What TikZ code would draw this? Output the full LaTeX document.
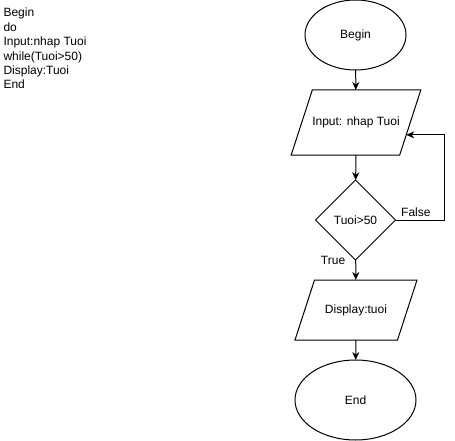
\documentclass[tikz,border=0pt]{standalone}
\usepackage{fontspec}
\setmainfont{Liberation Sans}
\usetikzlibrary{calc}
\usetikzlibrary{shapes.geometric}
\usetikzlibrary{arrows.meta}
\tikzset{
  every node/.style={font=\fontsize{12}{14.4}\selectfont},
  startstop/.style={ellipse,draw,fill=white,inner sep=0pt,outer sep=0pt},
  io/.style={trapezium,trapezium left angle=72,trapezium right angle=108,
    trapezium stretches body,draw,fill=white,inner xsep=0pt,outer sep=0pt,
    text height=9pt,text depth=3pt,minimum width=122pt},
  test/.style={diamond,draw,fill=white,inner sep=0pt,outer sep=0pt,
    aspect=1,minimum size=80pt},
  flow/.style={-{Stealth[length=8pt,width=7pt,inset=2.5pt]}},
}

\begin{document}
\begin{tikzpicture}[x=1pt,y=1pt,line width=1pt]
    \useasboundingbox[fill=white] (0,0) rectangle (455,-441);
    % Pseudo code
    \node[anchor=north west,align=left,inner sep=0pt] (code) at (3,-7.7)
      {Begin\\do\\Input:nhap Tuoi\\while(Tuoi>50)\\Display:Tuoi\\End};
    % Boxes
    \node[startstop,minimum width=101pt,minimum height=70pt]
      (begin) at (355.5,-35) {Begin};
    \node[io,inner ysep=26.5pt] (input) at (356,-122.5) {Input: nhap Tuoi};
    \node[test] (cond) at (355.5,-220) {Tuoi>50};
    \node[io,inner ysep=24pt] (display) at (356,-310) {Display:tuoi};
    \node[startstop,minimum width=121pt,minimum height=80pt]
      (end) at (355.5,-400) {End};
    \coordinate (back) at
      ($(input.top right corner)!0.69!(input.bottom right corner)$);
    % Arrows
    \draw[flow] (begin) -- (input);
    \draw[flow] (input) -- (cond);
    \draw[flow] (cond) -- (display)
      node[pos=0,anchor=east,inner sep=0pt,xshift=-10pt,yshift=-1pt] (yes) {True};
    \draw[flow] (display) -- (end);
    \draw[flow] (cond.east) -- node[pos=0.42,above] (no) {False}
      ++(48.5,0) |- (back);
\end{tikzpicture}
\end{document}
